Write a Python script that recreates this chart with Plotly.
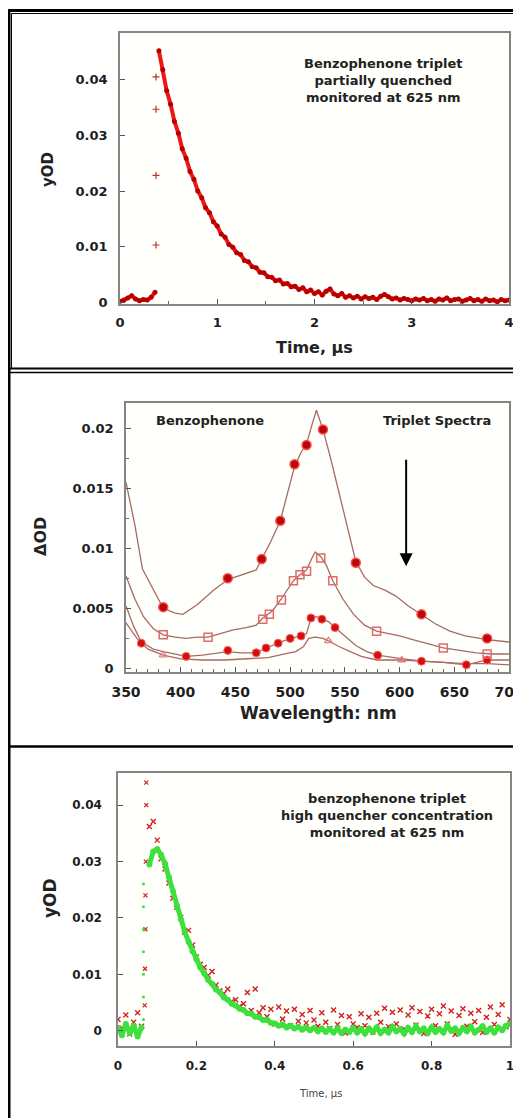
import plotly.graph_objects as go

# The page body keeps an 8px margin, so the figure is drawn 8px right/down;
# positions below are page pixels, converted to figure-paper fractions.
OX, OY = 8, 8
W, H = 513, 1110
def fx(p): return (p - OX) / W
def fy(p): return 1 - (p - OY) / H

FONT = "DejaVu Sans"

# ---------------- Panel 1: partially quenched decay (625 nm) ----------------
p1_pre_t = [0.00, 0.04, 0.08, 0.12, 0.16, 0.20, 0.24, 0.28, 0.32, 0.36]
p1_pre_y = [0.0002, 0.0004, 0.0008, 0.0012, 0.0006, 0.0003, 0.0005, 0.0004, 0.0009, 0.0018]
p1_rise_t = [0.37, 0.37, 0.37, 0.37]
p1_rise_y = [0.0103, 0.0228, 0.0347, 0.0405]
p1_decay_start, p1_decay_step = 0.40, 0.04
p1_decay_y = [
    0.0452, 0.0418, 0.0380, 0.0356, 0.0325, 0.0304, 0.0276, 0.0259, 0.0235, 0.0221,
    0.0200, 0.0188, 0.0170, 0.0161, 0.0145, 0.0137, 0.0123, 0.0117, 0.0104, 0.0099,
    0.0089, 0.0086, 0.0075, 0.0073, 0.0064, 0.0062, 0.0054, 0.0053, 0.0046, 0.0045,
    0.0039, 0.0040, 0.0033, 0.0034, 0.0028, 0.0029, 0.0023, 0.0026, 0.0019, 0.0022,
    0.0016, 0.0019, 0.0013, 0.0020, 0.0024, 0.0015, 0.0012, 0.0016, 0.0009, 0.0012,
    0.0008, 0.0011, 0.0006, 0.0010, 0.0007, 0.0009, 0.0005, 0.0011, 0.0014, 0.0010,
    0.0006, 0.0008, 0.0004, 0.0007, 0.0005, 0.0003, 0.0006, 0.0004, 0.0007, 0.0003,
    0.0005, 0.0002, 0.0006, 0.0004, 0.0008, 0.0003, 0.0005, 0.0006, 0.0002, 0.0004,
    0.0007, 0.0003, 0.0005, 0.0002, 0.0006, 0.0003, 0.0004, 0.0001, 0.0005, 0.0003,
    0.0004,
]
p1_decay_t = [round(p1_decay_start + p1_decay_step * i, 2) for i in range(len(p1_decay_y))]
p1_xticks = [0, 1, 2, 3, 4]
p1_yticks = [0, 0.01, 0.02, 0.03, 0.04]
p1_yticktext = ["0", "0.01", "0.02", "0.03", "0.04"]

# ---------------- Panel 2: triplet spectra ----------------
s1_wl = [350, 358, 365, 375, 384, 395, 402, 415, 430, 443, 455, 469, 474, 482, 491, 498, 504,
         510, 515, 520, 524, 530, 537, 545, 552, 560, 568, 576, 587, 597, 608, 620, 633, 646,
         660, 680, 690, 700]
s1_od = [0.0155, 0.0120, 0.0083, 0.0065, 0.0050, 0.0046, 0.0045, 0.0053, 0.0065, 0.0074,
         0.0078, 0.0082, 0.0091, 0.0105, 0.0123, 0.0148, 0.0168, 0.0180, 0.0187, 0.0203,
         0.0215, 0.0199, 0.0175, 0.0145, 0.0118, 0.0089, 0.0076, 0.0069, 0.0065, 0.0060,
         0.0052, 0.0045, 0.0037, 0.0031, 0.0027, 0.0024, 0.0023, 0.0022]
s1_mk_wl = [384, 443, 474, 491, 504, 515, 530, 560, 620, 680]
s1_mk_od = [0.0051, 0.0075, 0.0091, 0.0123, 0.0170, 0.0186, 0.0199, 0.0088, 0.0045, 0.0025]

s2_wl = [350, 358, 366, 375, 384, 395, 405, 415, 425, 437, 448, 460, 469, 475, 484, 492, 498,
         503, 509, 515, 520, 523, 528, 533, 539, 548, 558, 568, 579, 590, 600, 612, 625, 640,
         655, 670, 685, 700]
s2_od = [0.0077, 0.0058, 0.0043, 0.0033, 0.0028, 0.0026, 0.0025, 0.0026, 0.0026, 0.0029,
         0.0032, 0.0034, 0.0036, 0.0042, 0.0048, 0.0058, 0.0066, 0.0073, 0.0078, 0.0082,
         0.0092, 0.0097, 0.0093, 0.0086, 0.0073, 0.0058, 0.0045, 0.0036, 0.0031, 0.0029,
         0.0027, 0.0024, 0.0021, 0.0017, 0.0015, 0.0013, 0.0012, 0.0012]
s2_mk_wl = [384, 425, 475, 481, 492, 503, 509, 515, 528, 539, 579, 640, 680]
s2_mk_od = [0.0028, 0.0026, 0.0041, 0.0045, 0.0057, 0.0073, 0.0078, 0.0081, 0.0092, 0.0073,
            0.0031, 0.0017, 0.0012]

s3_wl = [350, 357, 364, 375, 384, 395, 405, 420, 435, 443, 455, 469, 478, 489, 500, 510, 515,
         519, 524, 529, 535, 541, 550, 560, 570, 580, 595, 610, 620, 640, 661, 680, 700]
s3_od = [0.0052, 0.0035, 0.0022, 0.0016, 0.0014, 0.0012, 0.0010, 0.0011, 0.0013, 0.0014,
         0.0013, 0.0013, 0.0017, 0.0021, 0.0025, 0.0027, 0.0029, 0.0042, 0.0043, 0.0041,
         0.0039, 0.0034, 0.0027, 0.0019, 0.0014, 0.0011, 0.0009, 0.0007, 0.0006, 0.0005,
         0.0003, 0.0007, 0.0007]
s3_mk_wl = [364, 405, 443, 469, 478, 489, 500, 510, 519, 529, 541, 580, 620, 661, 680]
s3_mk_od = [0.0021, 0.0010, 0.0015, 0.0013, 0.0017, 0.0021, 0.0025, 0.0027, 0.0042, 0.0041,
            0.0034, 0.0011, 0.0006, 0.0003, 0.0007]

s4_wl = [350, 360, 370, 384, 400, 420, 440, 460, 480, 495, 505, 512, 517, 523, 530, 535, 545,
         555, 565, 579, 590, 602, 620, 640, 660, 680, 700]
s4_od = [0.0038, 0.0025, 0.0016, 0.0011, 0.0008, 0.0007, 0.0007, 0.0008, 0.0009, 0.0012,
         0.0014, 0.0018, 0.0025, 0.0026, 0.0025, 0.0023, 0.0018, 0.0014, 0.0010, 0.0007,
         0.0007, 0.0007, 0.0006, 0.0005, 0.0004, 0.0004, 0.0003]
s4_mk_wl = [384, 535, 602]
s4_mk_od = [0.0011, 0.0023, 0.0007]

p2_xticks = [350, 400, 450, 500, 550, 600, 650, 700]
p2_yticks = [0, 0.005, 0.01, 0.015, 0.02]
p2_yticktext = ["0", "0.005", "0.01", "0.015", "0.02"]

# ---------------- Panel 3: high quencher concentration ----------------
p3_step = 0.01
g_pre_y = [0.0005, -0.0008, 0.0012, -0.0004, 0.0009, -0.0010, 0.0006]
g_rise_t = [0.065, 0.065, 0.065, 0.065, 0.065, 0.065, 0.065]
g_rise_y = [0.002, 0.006, 0.010, 0.014, 0.018, 0.022, 0.026]
g_decay_start = 0.08
g_decay_y = [
    0.0295, 0.0318, 0.0322, 0.0312, 0.0296, 0.0272, 0.0248, 0.0221, 0.0198, 0.0176,
    0.0158, 0.0141, 0.0127, 0.0112, 0.0102, 0.0090, 0.0083, 0.0073, 0.0068, 0.0059,
    0.0055, 0.0048, 0.0045, 0.0039, 0.0037, 0.0031, 0.0030, 0.0025, 0.0024, 0.0019,
    0.0019, 0.0014, 0.0013, 0.0009, 0.0011, 0.0006, 0.0009, 0.0004, 0.0007, 0.0002,
    0.0006, 0.0001, 0.0005, -0.0001, 0.0004, -0.0002, 0.0003, -0.0003, 0.0004, -0.0004,
    0.0002, -0.0002, 0.0005, -0.0003, 0.0003, -0.0005, 0.0004, -0.0002, 0.0006, -0.0004,
    0.0002, -0.0003, 0.0007, -0.0001, 0.0003, -0.0005, 0.0005, -0.0002, 0.0008, -0.0001,
    0.0004, -0.0004, 0.0006, -0.0002, 0.0003, -0.0003, 0.0009, 0.0000, 0.0004, -0.0004,
    0.0005, -0.0001, 0.0007, -0.0003, 0.0002, 0.0008, -0.0002, 0.0004, -0.0003, 0.0006,
    0.0001, 0.0009, 0.0012,
]
r_pre_y = [0.0020, 0.0005, 0.0028, -0.0006, 0.0015, 0.0032, 0.0008]
r_rise_t = [0.068, 0.069, 0.070, 0.070, 0.071, 0.072, 0.072]
r_rise_y = [0.0045, 0.011, 0.018, 0.024, 0.030, 0.040, 0.044]
r_decay_start = 0.08
r_decay_y = [
    0.0362, 0.0371, 0.0338, 0.0305, 0.0287, 0.0262, 0.0235, 0.0219, 0.0201, 0.0175,
    0.0178, 0.0152, 0.0131, 0.0118, 0.0112, 0.0098, 0.0105, 0.0081, 0.0071, 0.0066,
    0.0074, 0.0052, 0.0055, 0.0043, 0.0048, 0.0068, 0.0036, 0.0074, 0.0032, 0.0041,
    0.0025, 0.0038, 0.0012, 0.0042, 0.0021, 0.0035, 0.0009, 0.0038, 0.0017, 0.0029,
    0.0014, 0.0036, 0.0019, 0.0008, 0.0032, 0.0015, 0.0004, 0.0037, 0.0011, 0.0027,
    -0.0004, 0.0025, 0.0012, 0.0006, 0.0030, 0.0009, 0.0024, -0.0002, 0.0031, 0.0015,
    0.0040, 0.0007, 0.0033, 0.0012, 0.0037, 0.0003, 0.0028, 0.0041, 0.0010, 0.0034,
    -0.0005, 0.0026, 0.0038, 0.0009, 0.0030, 0.0044, 0.0012, 0.0035, -0.0006, 0.0027,
    0.0039, 0.0008, 0.0031, 0.0016, 0.0036, -0.0003, 0.0024, 0.0042, 0.0011, 0.0029,
    0.0046, 0.0007, 0.0020,
]
p3_pre_t = [round(p3_step * i, 2) for i in range(len(g_pre_y))]
g_decay_t = [round(g_decay_start + p3_step * i, 2) for i in range(len(g_decay_y))]
r_decay_t = [round(r_decay_start + p3_step * i, 2) for i in range(len(r_decay_y))]
p3_xticks = [0, 0.2, 0.4, 0.6, 0.8, 1]
p3_xticktext = ["0", "0.2", "0.4", "0.6", "0.8", "1"]
p3_yticks = [0, 0.01, 0.02, 0.03, 0.04]
p3_yticktext = ["0", "0.01", "0.02", "0.03", "0.04"]

fig = go.Figure()

RED = "#ee1616"
DARKRED = "#b80000"

# Panel 1 traces
fig.add_trace(go.Scatter(x=p1_pre_t, y=p1_pre_y, mode="lines+markers",
                         line=dict(color=RED, width=4), marker=dict(size=5, color=DARKRED),
                         xaxis="x", yaxis="y"))
fig.add_trace(go.Scatter(x=p1_rise_t, y=p1_rise_y, mode="markers",
                         marker=dict(symbol="cross-thin", size=5, line=dict(width=1.2, color="#c03030")),
                         xaxis="x", yaxis="y"))
fig.add_trace(go.Scatter(x=p1_decay_t, y=p1_decay_y, mode="lines+markers",
                         line=dict(color=RED, width=4), marker=dict(size=5, color=DARKRED),
                         xaxis="x", yaxis="y"))

# Panel 2 traces
LINEC = "#a86a64"
for wl, od in [(s1_wl, s1_od), (s2_wl, s2_od), (s3_wl, s3_od), (s4_wl, s4_od)]:
    fig.add_trace(go.Scatter(x=wl, y=od, mode="lines", line=dict(color=LINEC, width=1.3),
                             xaxis="x2", yaxis="y2"))
fig.add_trace(go.Scatter(x=s4_mk_wl, y=s4_mk_od, mode="markers",
                         marker=dict(symbol="triangle-up-open", size=7, color="#e88080",
                                     line=dict(width=1.3)), xaxis="x2", yaxis="y2"))
fig.add_trace(go.Scatter(x=s3_mk_wl, y=s3_mk_od, mode="markers",
                         marker=dict(symbol="circle", size=8, color="#d01010",
                                     line=dict(width=1, color="#ff6060")), xaxis="x2", yaxis="y2"))
fig.add_trace(go.Scatter(x=s2_mk_wl, y=s2_mk_od, mode="markers",
                         marker=dict(symbol="square-open", size=8, color="#e06a6a",
                                     line=dict(width=1.5)), xaxis="x2", yaxis="y2"))
fig.add_trace(go.Scatter(x=s1_mk_wl, y=s1_mk_od, mode="markers",
                         marker=dict(symbol="circle", size=9, color="#b80808",
                                     line=dict(width=1.5, color="#ff4a4a")), xaxis="x2", yaxis="y2"))

# Panel 3 traces
GREEN = "#3ee03e"
fig.add_trace(go.Scatter(x=p3_pre_t, y=r_pre_y, mode="markers",
                         marker=dict(symbol="x-thin", size=5, line=dict(width=1.3, color="#d02020")),
                         xaxis="x3", yaxis="y3"))
fig.add_trace(go.Scatter(x=r_rise_t, y=r_rise_y, mode="markers",
                         marker=dict(symbol="x-thin", size=4, line=dict(width=1.2, color="#d02020")),
                         xaxis="x3", yaxis="y3"))
fig.add_trace(go.Scatter(x=r_decay_t, y=r_decay_y, mode="markers",
                         marker=dict(symbol="x-thin", size=5, line=dict(width=1.4, color="#d02020")),
                         xaxis="x3", yaxis="y3"))
fig.add_trace(go.Scatter(x=p3_pre_t, y=g_pre_y, mode="lines+markers",
                         line=dict(color=GREEN, width=5), marker=dict(size=6, color=GREEN),
                         xaxis="x3", yaxis="y3"))
fig.add_trace(go.Scatter(x=g_rise_t, y=g_rise_y, mode="markers",
                         marker=dict(size=3, color=GREEN), xaxis="x3", yaxis="y3"))
fig.add_trace(go.Scatter(x=g_decay_t, y=g_decay_y, mode="lines+markers",
                         line=dict(color=GREEN, width=5), marker=dict(size=6, color=GREEN),
                         xaxis="x3", yaxis="y3"))

def axis(domain, rng, tickvals, ticktext=None, size=13, minor=None, anchor=None, standoff=4):
    d = dict(domain=domain, range=rng, tickvals=tickvals, showline=True, mirror=True,
             linecolor="#858585", linewidth=1.5, ticks="inside", ticklen=5, tickwidth=1,
             tickcolor="#555", showgrid=False, zeroline=False, anchor=anchor,
             automargin=False, ticklabelstandoff=standoff, ticklabeloverflow="allow",
             tickfont=dict(family=FONT, size=size, color="#1e1e1e", weight="bold"))
    if ticktext is not None:
        d["ticktext"] = ticktext
    if minor is not None:
        d["minor"] = dict(dtick=minor, ticks="inside", ticklen=3, tickcolor="#666", showgrid=False)
    return d

fig.update_layout(
    width=W, height=H, margin=dict(l=0, r=0, t=0, b=0, autoexpand=False),
    paper_bgcolor="white", plot_bgcolor="#fffffb", showlegend=False,
    xaxis=axis([fx(120), fx(509)], [0, 4], p1_xticks, size=13, minor=0.5, anchor="y", standoff=6),
    yaxis=axis([fy(304), fy(33)], [-0.0003, 0.0484], p1_yticks, p1_yticktext, size=13, anchor="x", standoff=8),
    xaxis2=axis([fx(126), fx(509)], [350, 700], p2_xticks, size=14, minor=10, anchor="y2", standoff=6),
    yaxis2=axis([fy(672), fy(403)], [-0.0003, 0.0221], p2_yticks, p2_yticktext, size=13, minor=0.0025, anchor="x2", standoff=8),
    xaxis3=axis([fx(118), fx(510)], [0, 1], p3_xticks, p3_xticktext, size=12, anchor="y3", standoff=8),
    yaxis3=axis([fy(1046), fy(773)], [-0.0027, 0.0457], p3_yticks, p3_yticktext, size=12, anchor="x3", standoff=12),
)

def ann(x, y, text, size, bold=True, angle=0, color="#222"):
    return dict(xref="paper", yref="paper", x=fx(x), y=fy(y), text=text, showarrow=False,
                xanchor="center", yanchor="middle", textangle=angle,
                font=dict(family=FONT, size=size, color=color, weight="bold" if bold else "normal"))

annotations = [
    ann(383, 80, "Benzophenone triplet<br>partially quenched<br>monitored at 625 nm", 13),
    ann(314, 347, "Time, µs", 16),
    ann(48, 170, "yOD", 15, angle=-90),
    ann(210, 420, "Benzophenone", 13),
    ann(437, 420, "Triplet Spectra", 13),
    ann(318, 713, "Wavelength: nm", 17),
    ann(40, 537, "ΔOD", 16, angle=-90),
    ann(387, 815, "benzophenone triplet<br>high quencher concentration<br>monitored at 625 nm", 13),
    ann(320, 1093, "Time, µs", 10, bold=False, color="#444"),
    ann(50, 898, "yOD", 17, angle=-90),
    dict(xref="x2", yref="y2", x=606, y=0.0085, ax=606, ay=0.0175, axref="x2", ayref="y2",
         text="", showarrow=True, arrowhead=2, arrowsize=1.3, arrowwidth=2, arrowcolor="black"),
]
fig.update_layout(annotations=annotations)

def pline(x0, y0, x1, y1, w):
    return dict(type="line", xref="paper", yref="paper", x0=fx(x0), y0=fy(y0), x1=fx(x1), y1=fy(y1),
                line=dict(color="black", width=w))

shapes = [
    pline(9, 9, 9, 1118, 3),
    pline(8, 10.5, 521, 10.5, 3),
    pline(11.5, 13.5, 521, 13.5, 1),
    pline(11.5, 13.5, 11.5, 368, 1),
    pline(8, 368.5, 521, 368.5, 2),
    pline(8, 372.5, 521, 372.5, 1.5),
    pline(8, 746.5, 521, 746.5, 2.5),
]
fig.update_layout(shapes=shapes)

fig.write_html("out.html")
